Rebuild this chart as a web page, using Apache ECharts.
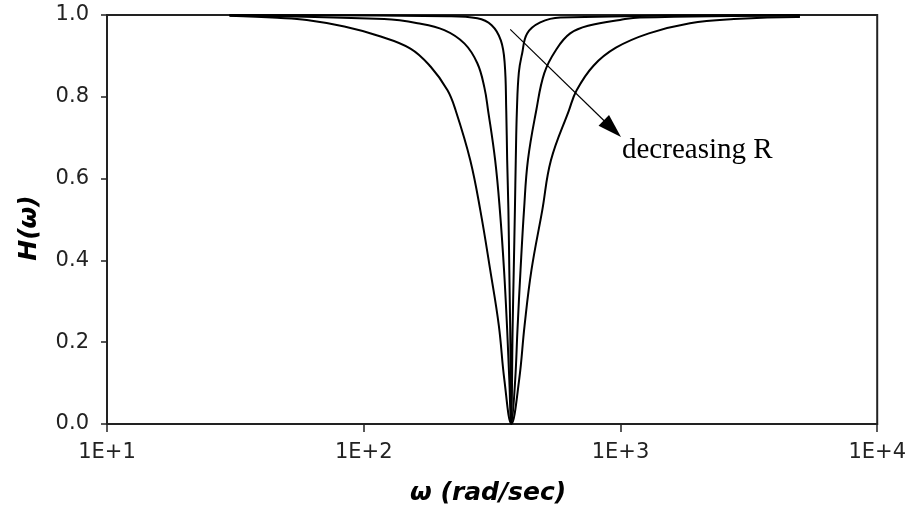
<!DOCTYPE html>
<html>
<head>
<meta charset="utf-8">
<script src="https://cdn.jsdelivr.net/npm/echarts@6/dist/echarts.min.js"></script>
<style>
  html, body { margin: 0; background: #fff; }
  #chart { width: 909px; height: 512px; }
</style>
</head>
<body>
<div id="chart"></div>
<script>
// notch responses, [omega (rad/sec), H]
const wideCurve = [[30,0.998],[46,0.993],[60,0.988],[84,0.972],[113,0.950],[152,0.918],[182,0.874],[212,0.816],[228,0.767],[260,0.645],[285,0.520],[311,0.376],[336,0.240],[353,0.108],[376,0],
  [403,0.108],[423,0.240],[450,0.376],[496,0.523],[536,0.645],[630,0.767],[675,0.816],[785,0.876],[960,0.920],[1290,0.955],[1865,0.980],[2765,0.990],[4861,0.995],[5000,0.995]];
const midCurve = [[30,0.999],[120,0.990],[162,0.980],[206,0.963],[247,0.930],[277,0.882],[295,0.823],[305,0.767],[325,0.645],[339,0.523],[352,0.376],[362,0.230],[369,0.108],[376,0],
  [389,0.108],[397,0.230],[408,0.376],[421,0.523],[436,0.645],[470,0.767],[505,0.858],[560,0.914],[637,0.955],[762,0.975],[996,0.988],[1192,0.994],[5000,0.999]];
const narrowCurve = [[30,1.0],[212,0.997],[277,0.992],[315,0.975],[342,0.938],[354,0.882],[359,0.767],[362,0.645],[366,0.523],[369,0.376],[372,0.230],[376,0],
  [380,0.230],[384,0.376],[388,0.523],[391,0.645],[395,0.767],[402,0.860],[414,0.906],[433,0.955],[487,0.982],[583,0.994],[5000,1.0]];

const xTickValues = [10, 100, 1000, 10000];
const xTickLabels = ['1E+1', '1E+2', '1E+3', '1E+4'];
const arrowFrom = [372, 0.965];
const arrowTo = [930, 0.722];

const myChart = echarts.init(document.getElementById('chart'));

const curveSeries = (data) => ({
  type: 'line',
  data: data,
  symbol: 'none',
  showSymbol: false,
  smooth: 0.4,
  lineStyle: { color: '#000', width: 2 },
  silent: true
});

const series = [wideCurve, midCurve, narrowCurve].map(curveSeries);
series[0].markLine = {
  silent: true,
  symbol: ['none', 'triangle'],
  symbolSize: [15, 24],
  label: { show: false },
  lineStyle: { color: '#000', width: 1.2, type: 'solid' },
  data: [[{ coord: arrowFrom }, { coord: arrowTo }]]
};

myChart.setOption({
  animation: false,
  backgroundColor: '#fff',
  grid: {
    left: 107, right: 26, top: 15, bottom: 88,
    show: true, borderColor: '#222', borderWidth: 2
  },
  xAxis: {
    type: 'log',
    logBase: 10,
    min: 10,
    max: 10000,
    name: 'ω (rad/sec)',
    nameLocation: 'middle',
    nameGap: 57,
    nameTextStyle: { fontFamily: 'DejaVu Sans', fontSize: 25, fontWeight: 'bold', fontStyle: 'italic', color: '#000', padding: [0, 8, 0, 0] },
    axisLine: { lineStyle: { color: '#222', width: 2 } },
    axisTick: { length: 8, lineStyle: { color: '#222', width: 1.5 } },
    minorTick: { show: false },
    splitLine: { show: false },
    axisLabel: {
      margin: 18,
      fontFamily: 'DejaVu Sans',
      fontSize: 21,
      color: '#222',
      formatter: (v) => {
        const i = xTickValues.findIndex((t) => Math.abs(t - v) / t < 1e-6);
        return i >= 0 ? xTickLabels[i] : '';
      }
    }
  },
  yAxis: {
    type: 'value',
    min: 0,
    max: 1,
    interval: 0.2,
    name: 'H(ω)',
    nameLocation: 'middle',
    nameGap: 65,
    nameTextStyle: { fontFamily: 'DejaVu Sans', fontSize: 25, fontWeight: 'bold', fontStyle: 'italic', color: '#000', padding: [0, 17, 0, 0] },
    axisLine: { show: true, lineStyle: { color: '#222', width: 2 } },
    axisTick: { show: true, length: 6, lineStyle: { color: '#222', width: 1.5 } },
    splitLine: { show: false },
    axisLabel: {
      margin: 18,
      fontFamily: 'DejaVu Sans',
      fontSize: 21,
      color: '#222',
      formatter: (v) => v.toFixed(1)
    }
  },
  graphic: [{
    type: 'text',
    left: 622,
    top: 136,
    style: { text: 'decreasing R', font: '29px "Liberation Serif"', fill: '#000' }
  }],
  series: series
});
</script>
</body>
</html>
